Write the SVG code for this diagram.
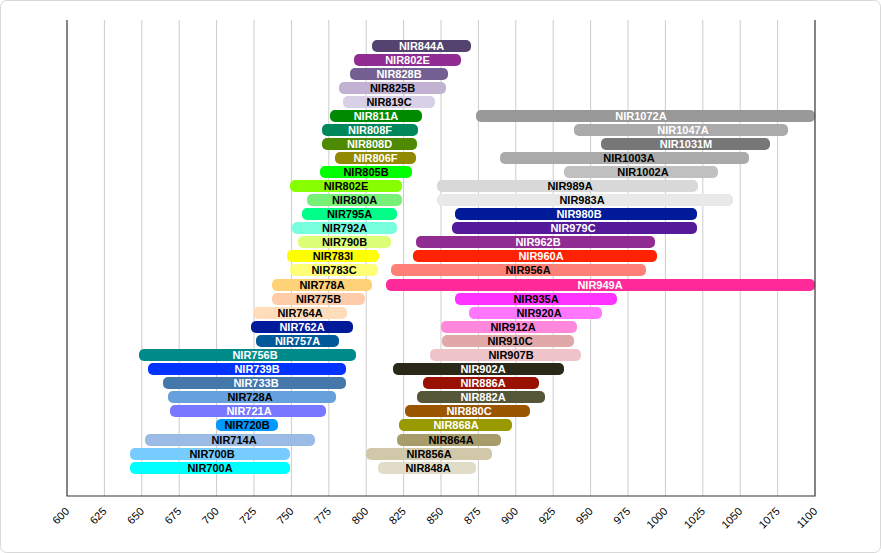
<svg xmlns="http://www.w3.org/2000/svg" width="881" height="553" viewBox="0 0 881 553">
<style>
.g{stroke:#cccccc;stroke-width:1}
.t{font-family:"Liberation Sans",Arial,sans-serif;font-size:11px;font-weight:bold;text-anchor:middle;dominant-baseline:central}
.w{fill:#ffffff}.b{fill:#000000}
.ax{font-family:"Liberation Sans",Arial,sans-serif;font-size:11px;text-anchor:end}
</style>
<rect x="0.5" y="0.5" width="880" height="552" rx="6" fill="#fff" stroke="#d8d8d8"/>
<g id="grid">
<line class="g" x1="104.4" y1="20" x2="104.4" y2="496"/><line class="g" x1="141.8" y1="20" x2="141.8" y2="496"/><line class="g" x1="179.2" y1="20" x2="179.2" y2="496"/><line class="g" x1="216.6" y1="20" x2="216.6" y2="496"/><line class="g" x1="254" y1="20" x2="254" y2="496"/><line class="g" x1="291.4" y1="20" x2="291.4" y2="496"/><line class="g" x1="328.8" y1="20" x2="328.8" y2="496"/><line class="g" x1="366.2" y1="20" x2="366.2" y2="496"/><line class="g" x1="403.6" y1="20" x2="403.6" y2="496"/><line class="g" x1="441" y1="20" x2="441" y2="496"/><line class="g" x1="478.4" y1="20" x2="478.4" y2="496"/><line class="g" x1="515.8" y1="20" x2="515.8" y2="496"/><line class="g" x1="553.2" y1="20" x2="553.2" y2="496"/><line class="g" x1="590.6" y1="20" x2="590.6" y2="496"/><line class="g" x1="628" y1="20" x2="628" y2="496"/><line class="g" x1="665.4" y1="20" x2="665.4" y2="496"/><line class="g" x1="702.8" y1="20" x2="702.8" y2="496"/><line class="g" x1="740.2" y1="20" x2="740.2" y2="496"/><line class="g" x1="777.6" y1="20" x2="777.6" y2="496"/>
</g>
<g id="connectors"></g>
<g id="bars">
<g id="n844A"><rect x="372" y="40" width="99" height="12" rx="5" fill="#54436e"/><text class="t w" x="421.5" y="46">NIR844A</text></g>
<g id="n802E1"><rect x="354" y="54" width="107" height="12" rx="5" fill="#912c93"/><text class="t w" x="407.5" y="60">NIR802E</text></g>
<g id="n828B"><rect x="350" y="68" width="98" height="12" rx="5" fill="#735f92"/><text class="t w" x="399" y="74">NIR828B</text></g>
<g id="n825B"><rect x="339" y="82" width="107" height="12" rx="5" fill="#c2b2d2"/><text class="t b" x="392.5" y="88">NIR825B</text></g>
<g id="n819C"><rect x="343" y="96" width="92" height="12" rx="5" fill="#d8d0e6"/><text class="t b" x="389" y="102">NIR819C</text></g>
<g id="n811A"><rect x="330" y="110" width="92" height="12" rx="5" fill="#008a00"/><text class="t w" x="376" y="116">NIR811A</text></g>
<g id="n808F"><rect x="322" y="124" width="96" height="12" rx="5" fill="#00875a"/><text class="t w" x="370" y="130">NIR808F</text></g>
<g id="n808D"><rect x="322" y="138" width="95" height="12" rx="5" fill="#4e8a00"/><text class="t w" x="369.5" y="144">NIR808D</text></g>
<g id="n806F"><rect x="335" y="152" width="81" height="12" rx="5" fill="#918a00"/><text class="t w" x="375.5" y="158">NIR806F</text></g>
<g id="n805B"><rect x="320" y="166" width="92" height="12" rx="5" fill="#00ff00"/><text class="t b" x="366" y="172">NIR805B</text></g>
<g id="n802E2"><rect x="290" y="180" width="112" height="12" rx="5" fill="#88ff00"/><text class="t b" x="346" y="186">NIR802E</text></g>
<g id="n800A"><rect x="307" y="194" width="95" height="12" rx="5" fill="#77f077"/><text class="t b" x="354.5" y="200">NIR800A</text></g>
<g id="n795A"><rect x="302" y="208" width="95" height="12" rx="5" fill="#00ff88"/><text class="t b" x="349.5" y="214">NIR795A</text></g>
<g id="n792A"><rect x="292" y="222" width="105" height="12" rx="5" fill="#77ffdd"/><text class="t b" x="344.5" y="228">NIR792A</text></g>
<g id="n790B"><rect x="298" y="236" width="93" height="12" rx="5" fill="#ddff77"/><text class="t b" x="344.5" y="242">NIR790B</text></g>
<g id="n783I"><rect x="287" y="250" width="92" height="12" rx="5" fill="#ffff00"/><text class="t b" x="333" y="256">NIR783I</text></g>
<g id="n783C"><rect x="290" y="264" width="88" height="12" rx="5" fill="#ffff77"/><text class="t b" x="334" y="270">NIR783C</text></g>
<g id="n778A"><rect x="272" y="279" width="100" height="12" rx="5" fill="#ffd277"/><text class="t b" x="322" y="285">NIR778A</text></g>
<g id="n775B"><rect x="272" y="293" width="93" height="12" rx="5" fill="#ffccaa"/><text class="t b" x="318.5" y="299">NIR775B</text></g>
<g id="n764A"><rect x="253" y="307" width="94" height="12" rx="5" fill="#ffddbb"/><text class="t b" x="300" y="313">NIR764A</text></g>
<g id="n762A"><rect x="251" y="321" width="102" height="12" rx="5" fill="#001a99"/><text class="t w" x="302" y="327">NIR762A</text></g>
<g id="n757A"><rect x="256" y="335" width="83" height="12" rx="5" fill="#005a99"/><text class="t w" x="297.5" y="341">NIR757A</text></g>
<g id="n756B"><rect x="139" y="349" width="217" height="12" rx="5" fill="#008b8b"/><text class="t w" x="255" y="355">NIR756B</text></g>
<g id="n739B"><rect x="148" y="363" width="198" height="12" rx="5" fill="#0033ff"/><text class="t w" x="257" y="369">NIR739B</text></g>
<g id="n733B"><rect x="163" y="377" width="183" height="12" rx="5" fill="#4477aa"/><text class="t w" x="256" y="383">NIR733B</text></g>
<g id="n728A"><rect x="168" y="391" width="168" height="12" rx="5" fill="#66a0dd"/><text class="t b" x="250" y="397">NIR728A</text></g>
<g id="n721A"><rect x="170" y="405" width="156" height="12" rx="5" fill="#7777ff"/><text class="t w" x="249" y="411">NIR721A</text></g>
<g id="n720B"><rect x="216" y="419" width="62" height="12" rx="5" fill="#0099ff"/><text class="t b" x="247" y="425">NIR720B</text></g>
<g id="n714A"><rect x="145" y="434" width="170" height="12" rx="5" fill="#99bbe6"/><text class="t b" x="234" y="440">NIR714A</text></g>
<g id="n700B"><rect x="130" y="448" width="160" height="12" rx="5" fill="#77ccff"/><text class="t b" x="212" y="454">NIR700B</text></g>
<g id="n700A"><rect x="130" y="462" width="160" height="12" rx="5" fill="#00ffff"/><text class="t b" x="210" y="468">NIR700A</text></g>
<g id="n1072A"><rect x="476" y="110" width="339" height="12" rx="5" fill="#999999"/><text class="t w" x="641" y="116">NIR1072A</text></g>
<g id="n1047A"><rect x="574" y="124" width="214" height="12" rx="5" fill="#aaaaaa"/><text class="t w" x="683" y="130">NIR1047A</text></g>
<g id="n1031M"><rect x="601" y="138" width="169" height="12" rx="5" fill="#777777"/><text class="t w" x="686" y="144">NIR1031M</text></g>
<g id="n1003A"><rect x="500" y="152" width="249" height="12" rx="5" fill="#aaaaaa"/><text class="t b" x="629" y="158">NIR1003A</text></g>
<g id="n1002A"><rect x="564" y="166" width="154" height="12" rx="5" fill="#c0c0c0"/><text class="t b" x="643" y="172">NIR1002A</text></g>
<g id="n989A"><rect x="437" y="180" width="261" height="12" rx="5" fill="#d8d8d8"/><text class="t b" x="570" y="186">NIR989A</text></g>
<g id="n983A"><rect x="437" y="194" width="296" height="12" rx="5" fill="#e8e8e8"/><text class="t b" x="582" y="200">NIR983A</text></g>
<g id="n980B"><rect x="455" y="208" width="242" height="12" rx="5" fill="#001a99"/><text class="t w" x="579" y="214">NIR980B</text></g>
<g id="n979C"><rect x="452" y="222" width="245" height="12" rx="5" fill="#551a99"/><text class="t w" x="573" y="228">NIR979C</text></g>
<g id="n962B"><rect x="416" y="236" width="239" height="12" rx="5" fill="#912c93"/><text class="t w" x="538" y="242">NIR962B</text></g>
<g id="n960A"><rect x="413" y="250" width="244" height="12" rx="5" fill="#ff2200"/><text class="t w" x="541" y="256">NIR960A</text></g>
<g id="n956A"><rect x="391" y="264" width="255" height="12" rx="5" fill="#ff8077"/><text class="t b" x="528" y="270">NIR956A</text></g>
<g id="n949A"><rect x="386" y="279" width="429" height="12" rx="5" fill="#ff2a99"/><text class="t w" x="600" y="285">NIR949A</text></g>
<g id="n935A"><rect x="455" y="293" width="162" height="12" rx="5" fill="#ff33ff"/><text class="t b" x="536" y="299">NIR935A</text></g>
<g id="n920A"><rect x="469" y="307" width="133" height="12" rx="5" fill="#ff77ff"/><text class="t b" x="539" y="313">NIR920A</text></g>
<g id="n912A"><rect x="441" y="321" width="136" height="12" rx="5" fill="#ff88dd"/><text class="t b" x="513" y="327">NIR912A</text></g>
<g id="n910C"><rect x="442" y="335" width="132" height="12" rx="5" fill="#e0a8a8"/><text class="t b" x="510" y="341">NIR910C</text></g>
<g id="n907B"><rect x="430" y="349" width="151" height="12" rx="5" fill="#eec4c8"/><text class="t b" x="511" y="355">NIR907B</text></g>
<g id="n902A"><rect x="393" y="363" width="171" height="12" rx="5" fill="#2a2818"/><text class="t w" x="483" y="369">NIR902A</text></g>
<g id="n886A"><rect x="423" y="377" width="116" height="12" rx="5" fill="#991100"/><text class="t w" x="483" y="383">NIR886A</text></g>
<g id="n882A"><rect x="417" y="391" width="128" height="12" rx="5" fill="#555538"/><text class="t w" x="483" y="397">NIR882A</text></g>
<g id="n880C"><rect x="405" y="405" width="125" height="12" rx="5" fill="#995500"/><text class="t w" x="469" y="411">NIR880C</text></g>
<g id="n868A"><rect x="399" y="419" width="113" height="12" rx="5" fill="#999900"/><text class="t w" x="456" y="425">NIR868A</text></g>
<g id="n864A"><rect x="397" y="434" width="104" height="12" rx="5" fill="#a89c6a"/><text class="t b" x="451" y="440">NIR864A</text></g>
<g id="n856A"><rect x="366" y="448" width="126" height="12" rx="5" fill="#d0c8a8"/><text class="t b" x="429" y="454">NIR856A</text></g>
<g id="n848A"><rect x="378" y="462" width="98" height="12" rx="5" fill="#e0dcc8"/><text class="t b" x="428" y="468">NIR848A</text></g>
</g>
<g id="axis">
<polyline points="67,20 67,496 815,496 815,20" fill="none" stroke="#333" stroke-width="1.2"/>
<g class="ax">
<text transform="translate(70,512) rotate(-45)">600</text><text transform="translate(107.4,512) rotate(-45)">625</text><text transform="translate(144.8,512) rotate(-45)">650</text><text transform="translate(182.2,512) rotate(-45)">675</text><text transform="translate(219.6,512) rotate(-45)">700</text><text transform="translate(257,512) rotate(-45)">725</text><text transform="translate(294.4,512) rotate(-45)">750</text><text transform="translate(331.8,512) rotate(-45)">775</text><text transform="translate(369.2,512) rotate(-45)">800</text><text transform="translate(406.6,512) rotate(-45)">825</text><text transform="translate(444,512) rotate(-45)">850</text><text transform="translate(481.4,512) rotate(-45)">875</text><text transform="translate(518.8,512) rotate(-45)">900</text><text transform="translate(556.2,512) rotate(-45)">925</text><text transform="translate(593.6,512) rotate(-45)">950</text><text transform="translate(631,512) rotate(-45)">975</text><text transform="translate(668.4,512) rotate(-45)">1000</text><text transform="translate(705.8,512) rotate(-45)">1025</text><text transform="translate(743.2,512) rotate(-45)">1050</text><text transform="translate(780.6,512) rotate(-45)">1075</text><text transform="translate(818,512) rotate(-45)">1100</text>
</g>
</g>
</svg>
